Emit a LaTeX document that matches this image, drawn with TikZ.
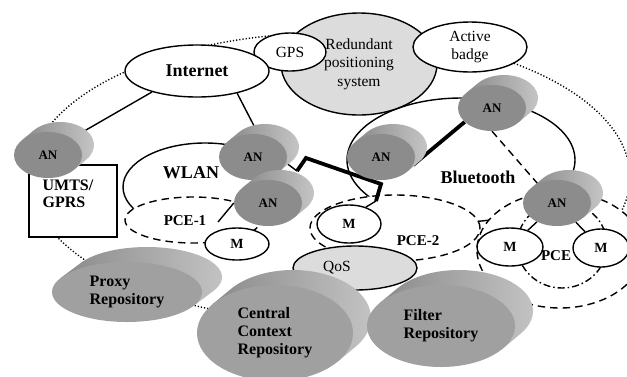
\documentclass[tikz,border=0pt]{standalone}
\usepackage{fontspec}
\setmainfont{Liberation Serif}
\usetikzlibrary{shapes.geometric,calc}

\definecolor{paleGrey}{RGB}{220,220,220}
\definecolor{anGrey}{RGB}{140,140,140}
\definecolor{anBandL}{RGB}{138,138,138}
\definecolor{anBandR}{RGB}{200,200,200}
\definecolor{repoGrey}{RGB}{160,160,160}
\definecolor{repoBandL}{RGB}{138,138,138}
\definecolor{repoBandR}{RGB}{198,198,198}

\pgfdeclarelayer{zones}
\pgfdeclarelayer{links}
\pgfsetlayers{zones,links,main}

% A flat grey drum seen at an angle: shaded side band behind a named front face.
% #1 name, #2/#3 front centre, #4/#5 radii, #6/#7 offset of the back face, #8 face style, #9 text
\newcommand\drum[9]{%
  \pgfmathsetmacro\drumT{atan2(#5*#6, -#4*#7)}%
  \shade[#8 band] (#2,#3) ++(\drumT+180:#4 and #5) -- ++(#6,#7)
    arc[start angle=\drumT+180, end angle=\drumT+360, x radius=#4, y radius=#5]
    -- ($(#2,#3)+(\drumT:#4 and #5)$) -- cycle;
  \node[#8, minimum width=2*#4, minimum height=2*#5] (#1) at (#2,#3) {#9};
  \coordinate (#1-top) at ($(#2,#3)+(#6,#7)$);
}

\begin{document}
\begin{tikzpicture}[x=1pt, y=-1pt,
  edgeline/.style={draw=black, line width=1.4pt},
  whiteoval/.style={ellipse, edgeline, fill=white, inner sep=0pt},
  greyoval/.style={ellipse, edgeline, fill=paleGrey, inner sep=0pt},
  plainface/.style={font=\fontsize{15.5}{18.5}\selectfont, align=center},
  bigbold/.style={font=\fontsize{18}{20}\selectfont\bfseries, inner sep=0pt},
  zonelabel/.style={font=\fontsize{15}{17}\selectfont\bfseries, inner sep=0pt},
  mnode/.style={whiteoval, font=\fontsize{14}{16}\selectfont\bfseries},
  zone/.style={ellipse, edgeline, fill=white, dash pattern=on 7.5pt off 5pt, inner sep=0pt},
  subzone/.style={ellipse, edgeline, dash pattern=on 7pt off 3pt on 1.5pt off 3pt, inner sep=0pt},
  ringzone/.style={ellipse, edgeline, inner sep=0pt},
  dotted ring/.style={draw=black, line width=1.4pt, dash pattern=on 1.2pt off 2pt},
  link/.style={draw=black, line width=1.4pt},
  heavy link/.style={draw=black, line width=3.8pt},
  dashed link/.style={link, dash pattern=on 7.5pt off 5pt},
  anface/.style={ellipse, fill=anGrey, inner sep=0pt, font=\fontsize{13}{15}\selectfont\bfseries},
  anface band/.style={left color=anBandL, right color=anBandR},
  repoface/.style={ellipse, fill=repoGrey, inner sep=0pt, align=left, font=\fontsize{16}{18}\selectfont\bfseries},
  repoface band/.style={left color=repoBandL, right color=repoBandR},
]
\useasboundingbox (0,0) rectangle (627,376);

% ---------- background zones ----------
\begin{pgfonlayer}{zones}
  \fill[white] (0,0) rectangle (627,376);
  \draw[dotted ring] (330,177) ++(100:300 and 144)
    arc[start angle=100, end angle=375, x radius=300, y radius=144];
  \node[ringzone, minimum width=228, minimum height=124] (bt) at (461,160) {};
  \node[ringzone, minimum width=164, minimum height=88] (wlan) at (205,187) {};
  \node[zone, minimum width=136, minimum height=46] (pce1) at (193,220) {};
  \node[zone, minimum width=170, minimum height=66] (pce2) at (395,228) {};
  \node[zone, minimum width=166, minimum height=116] (pce3) at (560,250) {};
  \node[subzone, minimum width=90, minimum height=86] (pce3in) at (562,245) {};
\end{pgfonlayer}

% ---------- positioning systems and Internet ----------
\node[greyoval, minimum width=156, minimum height=102, plainface] (rps) at (359,64) {Redundant\\positioning\\system};
\node[whiteoval, minimum width=72, minimum height=38, plainface] (gps) at (290,52) {GPS};
\node[whiteoval, minimum width=114, minimum height=50, plainface] (badge) at (470,47) {Active\\badge};
\node[whiteoval, minimum width=144, minimum height=52, bigbold] (inet) at (197,71) {Internet\hspace{14pt}};

% ---------- UMTS/GPRS ----------
\node[draw, line width=1.4pt, fill=white, minimum width=88, minimum height=72] (umts) at (73,201) {};
\node[font=\fontsize{16}{17.5}\selectfont\bfseries, align=left, inner sep=0pt] (umtslabel) at (68,194) {UMTS/\\GPRS};

% ---------- access nodes ----------
\drum{an1}{48}{155}{34}{23}{12}{-10}{anface}{AN}
\drum{an2}{253}{157}{34}{23}{12}{-10}{anface}{AN}
\drum{an3}{268}{203}{34}{23}{12}{-10}{anface}{AN}
\drum{an4}{381}{157}{34}{23}{12}{-10}{anface}{AN}
\drum{an5}{492}{108}{34}{23}{12}{-10}{anface}{AN}
\drum{an6}{557}{203}{34}{23}{12}{-10}{anface}{AN}

% ---------- mobile devices ----------
\node[mnode, minimum width=64, minimum height=32] (m1) at (237,244) {M};
\node[mnode, minimum width=64, minimum height=38] (m2) at (349,224) {M};
\node[mnode, minimum width=66, minimum height=38] (m3) at (510,247) {M};
\node[mnode, minimum width=56, minimum height=38] (m4) at (601,248) {M};

% ---------- QoS and repositories ----------
\node[greyoval, minimum width=124, minimum height=44, plainface] (qos) at (355,268) {QoS\hspace{36pt}};
\drum{proxy}{127}{292}{75}{30}{20}{-15}{repoface}{Proxy\\Repository}
\drum{ccr}{275}{333}{78}{48}{18}{-15}{repoface}{Central\\Context\\Repository}
\drum{filter}{441}{326}{74}{41}{18}{-15}{repoface}{Filter\\Repository}

% ---------- zone labels ----------
\node[bigbold] (wlanlabel) at (191,173) {WLAN};
\node[bigbold] (btlabel) at (478,177) {Bluetooth};
\node[zonelabel] (pce1label) at (185,221) {PCE-1};
\node[zonelabel] (pce2label) at (418,241) {PCE-2};
\node[zonelabel] (pce3label) at (556,256) {PCE};

% ---------- connections ----------
\begin{pgfonlayer}{links}
  \coordinate (k0) at (297,171);
  \coordinate (k1) at (306,158);
  \coordinate (k2) at (381,184);
  \coordinate (k3) at (376,201);
  \coordinate (pce1tip) at (218,222);
  \draw[link] (inet.205) -- (an1-top);
  \draw[link] (inet.-29) -- (an2-top);
  \draw[link] (an2-top) -- (k0);
  \draw[heavy link] (k0) -- (k1) -- (k2) -- (k3);
  \draw[link] (k3) -- (m2.45);
  \draw[heavy link] (an4.-14) -- (an5.207);
  \draw[dashed link] (an5.south) -- (an6.135);
  \draw[link] (an6) -- (m3);
  \draw[link] (an6) -- (m4);
  \draw[link] (an3.west) -- (pce1tip);
\end{pgfonlayer}
\end{tikzpicture}
\end{document}
